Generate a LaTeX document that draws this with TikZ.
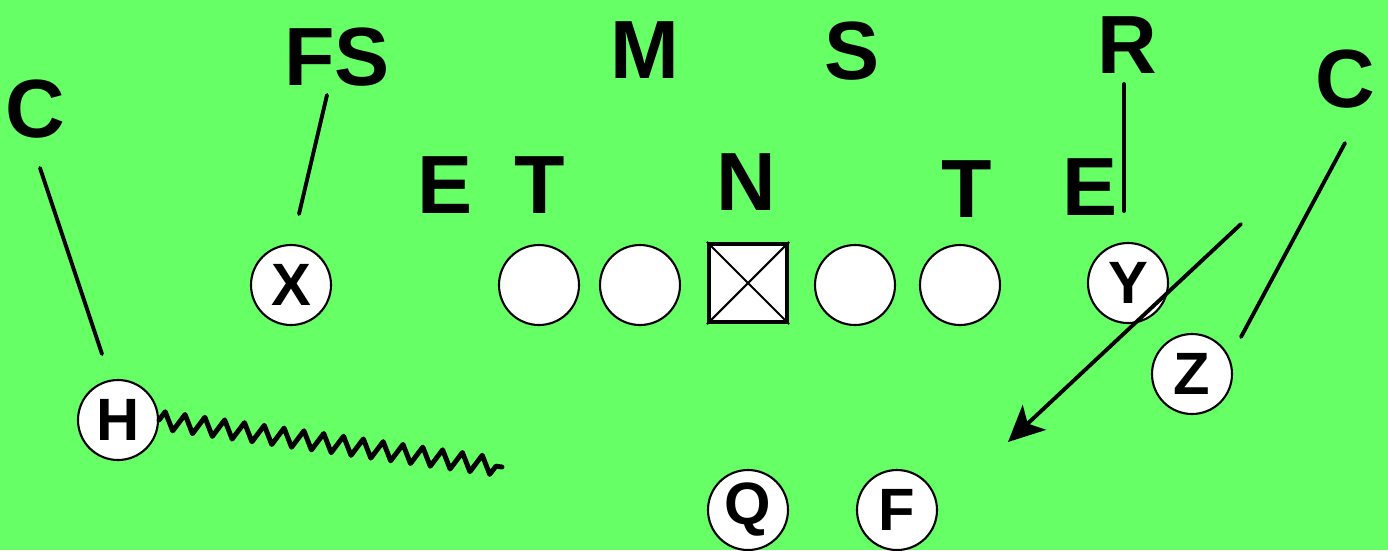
\documentclass[tikz,border=0pt]{standalone}
\usepackage{fontspec}
\setmainfont{Liberation Sans}
\usetikzlibrary{arrows.meta,decorations.pathmorphing}
\definecolor{field}{HTML}{66FF66}

\begin{document}
\begin{tikzpicture}[line width=1.1pt,>={Stealth[length=3.6mm,width=3.4mm,inset=0.9mm]},
  man/.style={circle,draw,fill=white,line width=0.6pt,minimum size=0.8cm,inner sep=0pt,
    font=\fontsize{17}{17}\selectfont\bfseries},
  dman/.style={inner sep=0pt,font=\fontsize{23.5}{23.5}\selectfont\bfseries}]
  \fill[field] (0,0) rectangle (13.88,5.5);
  \useasboundingbox (0,0) rectangle (13.88,5.5);
  % offense
  \node[man] (X) at (2.91,2.65){X};
  \node[man] (H) at (1.18,1.30){H};
  \node[man] (lg) at (5.39,2.65){};
  \node[man] (lt) at (6.40,2.65){};
  \node[draw,fill=white,line width=1.2pt,minimum size=0.78cm,inner sep=0pt] (ctr) at (7.48,2.67){};
  \draw[line width=0.6pt] (ctr.north west)--(ctr.south east) (ctr.north east)--(ctr.south west);
  \node[man] (rg) at (8.55,2.65){};
  \node[man] (rt) at (9.60,2.65){};
  \node[man] (Y) at (11.28,2.67){Y};
  \node[man] (Z) at (11.92,1.76){Z};
  \node[man] (Q) at (7.48,0.40){Q};
  \node[man] (F) at (8.97,0.40){F};
  % defense
  \node[dman] (Cl) at (0.35,4.41){C};
  \node[dman] (FS) at (3.37,4.93){FS};
  \node[dman] (M) at (6.45,5.00){M};
  \node[dman] (S) at (8.52,4.99){S};
  \node[dman] (R) at (11.27,5.05){R};
  \node[dman] (Cr) at (13.45,4.71){C};
  \node[dman] (El) at (4.45,3.65){E};
  \node[dman] (Tl) at (5.40,3.65){T};
  \node[dman] (N) at (7.46,3.68){N};
  \node[dman] (Tr) at (9.67,3.61){T};
  \node[dman] (Er) at (10.90,3.63){E};
  % keys
  \coordinate (cl1) at (0.40,3.82); \coordinate (cl2) at (1.02,1.96);
  \coordinate (fs1) at (3.27,4.55); \coordinate (fs2) at (2.99,3.36);
  \coordinate (r1) at (11.24,4.66); \coordinate (r2) at (11.24,3.39);
  \coordinate (cr1) at (13.45,4.07); \coordinate (cr2) at (12.41,2.13);
  \coordinate (a1) at (12.41,3.26); \coordinate (a2) at (10.08,1.08);
  \coordinate (zz) at (5.02,0.83);
  \draw[line cap=round] (cl1)--(cl2);
  \draw[line cap=round] (fs1)--(fs2);
  \draw[line cap=round] (r1)--(r2);
  \draw[line cap=round] (cr1)--(cr2);
  \draw[->,line cap=round] (a1)--(a2);
  \draw[decorate,decoration={zigzag,segment length=0.2cm,amplitude=0.09cm},
    line width=1.4pt,line join=round,line cap=round] (H.east)--(zz);
\end{tikzpicture}
\end{document}
